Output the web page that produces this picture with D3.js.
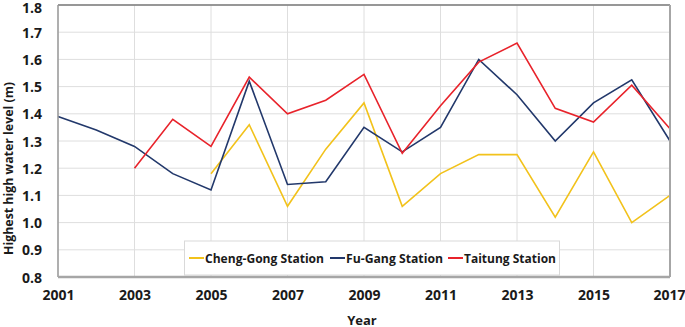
<!DOCTYPE html>
<html><head><meta charset="utf-8">
<script src="https://cdn.jsdelivr.net/npm/d3@7/dist/d3.min.js"></script>
<style>body{margin:0;background:#fff;}svg{display:block;font-family:"Open Sans",Lato,sans-serif;}</style>
</head><body><svg id="c" width="685" height="327"></svg>
<script>
const years = [2001,2002,2003,2004,2005,2006,2007,2008,2009,2010,2011,2012,2013,2014,2015,2016,2017];
const chengGong = [null,null,null,null,1.18,1.36,1.06,1.27,1.44,1.06,1.18,1.25,1.25,1.02,1.26,1.00,1.10];
const fuGang = [1.39,1.34,1.28,1.18,1.12,1.52,1.14,1.15,1.35,1.26,1.35,1.60,1.47,1.30,1.44,1.525,1.30];
const taitung = [null,null,1.20,1.38,1.28,1.535,1.40,1.45,1.545,1.255,1.43,1.59,1.66,1.42,1.37,1.505,1.345];
const xTicks = [2001,2003,2005,2007,2009,2011,2013,2015,2017];
const yTicks = [0.8,0.9,1.0,1.1,1.2,1.3,1.4,1.5,1.6,1.7,1.8];
const seriesNames = ["Cheng-Gong Station","Fu-Gang Station","Taitung Station"];
const colors = ["#f2c21b","#22386b","#e8232b"];
const seriesData = [chengGong, fuGang, taitung];

const svg = d3.select("#c");
const L=58, R=670, T=5, B=277;
const x = d3.scaleLinear().domain([2001,2017]).range([L,R]);
const y = d3.scaleLinear().domain([0.8,1.8]).range([B,T]);

// gridlines
svg.append("g").selectAll("line").data(yTicks).join("line")
  .attr("x1",L).attr("x2",R).attr("y1",d=>y(d)).attr("y2",d=>y(d))
  .attr("stroke","#dedede").attr("stroke-width",1);
svg.append("g").selectAll("line").data(xTicks).join("line")
  .attr("y1",T).attr("y2",B).attr("x1",d=>x(d)).attr("x2",d=>x(d))
  .attr("stroke","#dedede").attr("stroke-width",1);

// lines
const line = d3.line().defined(d=>d[1]!=null).x(d=>x(d[0])).y(d=>y(d[1]));
seriesData.forEach((s,i)=>{
  svg.append("path").datum(years.map((yr,j)=>[yr,s[j]]))
    .attr("d",line).attr("fill","none").attr("stroke",colors[i]).attr("stroke-width",1.6)
    .attr("stroke-linejoin","miter");
});

// frame
svg.append("line").attr("x1",L).attr("x2",R).attr("y1",T).attr("y2",T).attr("stroke","#7a7a7a").attr("stroke-width",1.5);
svg.append("line").attr("x1",R).attr("x2",R).attr("y1",T).attr("y2",B).attr("stroke","#a6a6a6").attr("stroke-width",2);
svg.append("line").attr("x1",L).attr("x2",L).attr("y1",T).attr("y2",B).attr("stroke","#9a9a9a").attr("stroke-width",1.5);

// legend
const lg = svg.append("g");
lg.append("rect").attr("x",184.5).attr("y",241).attr("width",375).attr("height",34)
  .attr("fill","#fff").attr("stroke","#d9d9d9").attr("stroke-width",1);
const lx = [189,330,448];
const lw = [119,97,92];
seriesNames.forEach((n,i)=>{
  lg.append("line").attr("x1",lx[i]).attr("x2",lx[i]+15).attr("y1",258).attr("y2",258)
    .attr("stroke",colors[i]).attr("stroke-width",2);
  lg.append("text").attr("x",lx[i]+16).attr("y",262.5).text(n)
    .attr("textLength",lw[i]).attr("lengthAdjust","spacingAndGlyphs")
    .attr("font-size",13).attr("font-weight","bold").attr("fill","#1a1a1a");
});

svg.append("line").attr("x1",L).attr("x2",R).attr("y1",B).attr("y2",B).attr("stroke","#a6a6a6").attr("stroke-width",2.5);

// axes labels
const yAxis = d3.axisLeft(y).tickValues(yTicks).tickFormat(d3.format(".1f")).tickSize(0).tickPadding(16);
const gy = svg.append("g").attr("transform",`translate(${L},0)`).call(yAxis);
gy.select(".domain").remove();
gy.selectAll("text").attr("font-size",14).attr("font-weight","bold").attr("fill","#1a1a1a")
  .attr("font-family","'Open Sans',sans-serif").attr("dy","0.36em");
gy.selectAll(".tick").filter(d=>d===1.8).select("text").attr("dy","0.5em");

const xAxis = d3.axisBottom(x).tickValues(xTicks).tickFormat(d3.format("d")).tickSize(0).tickPadding(13);
const gx = svg.append("g").attr("transform",`translate(0,${B})`).call(xAxis);
gx.select(".domain").remove();
gx.selectAll("text").attr("font-size",14).attr("font-weight","bold").attr("fill","#1a1a1a")
  .attr("font-family","'Open Sans',sans-serif");
gx.selectAll(".tick").filter(d=>d===2017).select("text").attr("dx","-1");

svg.append("text").attr("x",362).attr("y",324.5).attr("text-anchor","middle")
  .attr("font-size",13).attr("font-weight","bold").attr("fill","#1a1a1a").text("Year");
svg.append("text").attr("transform","translate(13,168.5) rotate(-90)").attr("text-anchor","middle")
  .attr("textLength",173).attr("lengthAdjust","spacingAndGlyphs")
  .attr("font-size",13).attr("font-weight","bold").attr("fill","#1a1a1a").text("Highest high water level (m)");
</script></body></html>
